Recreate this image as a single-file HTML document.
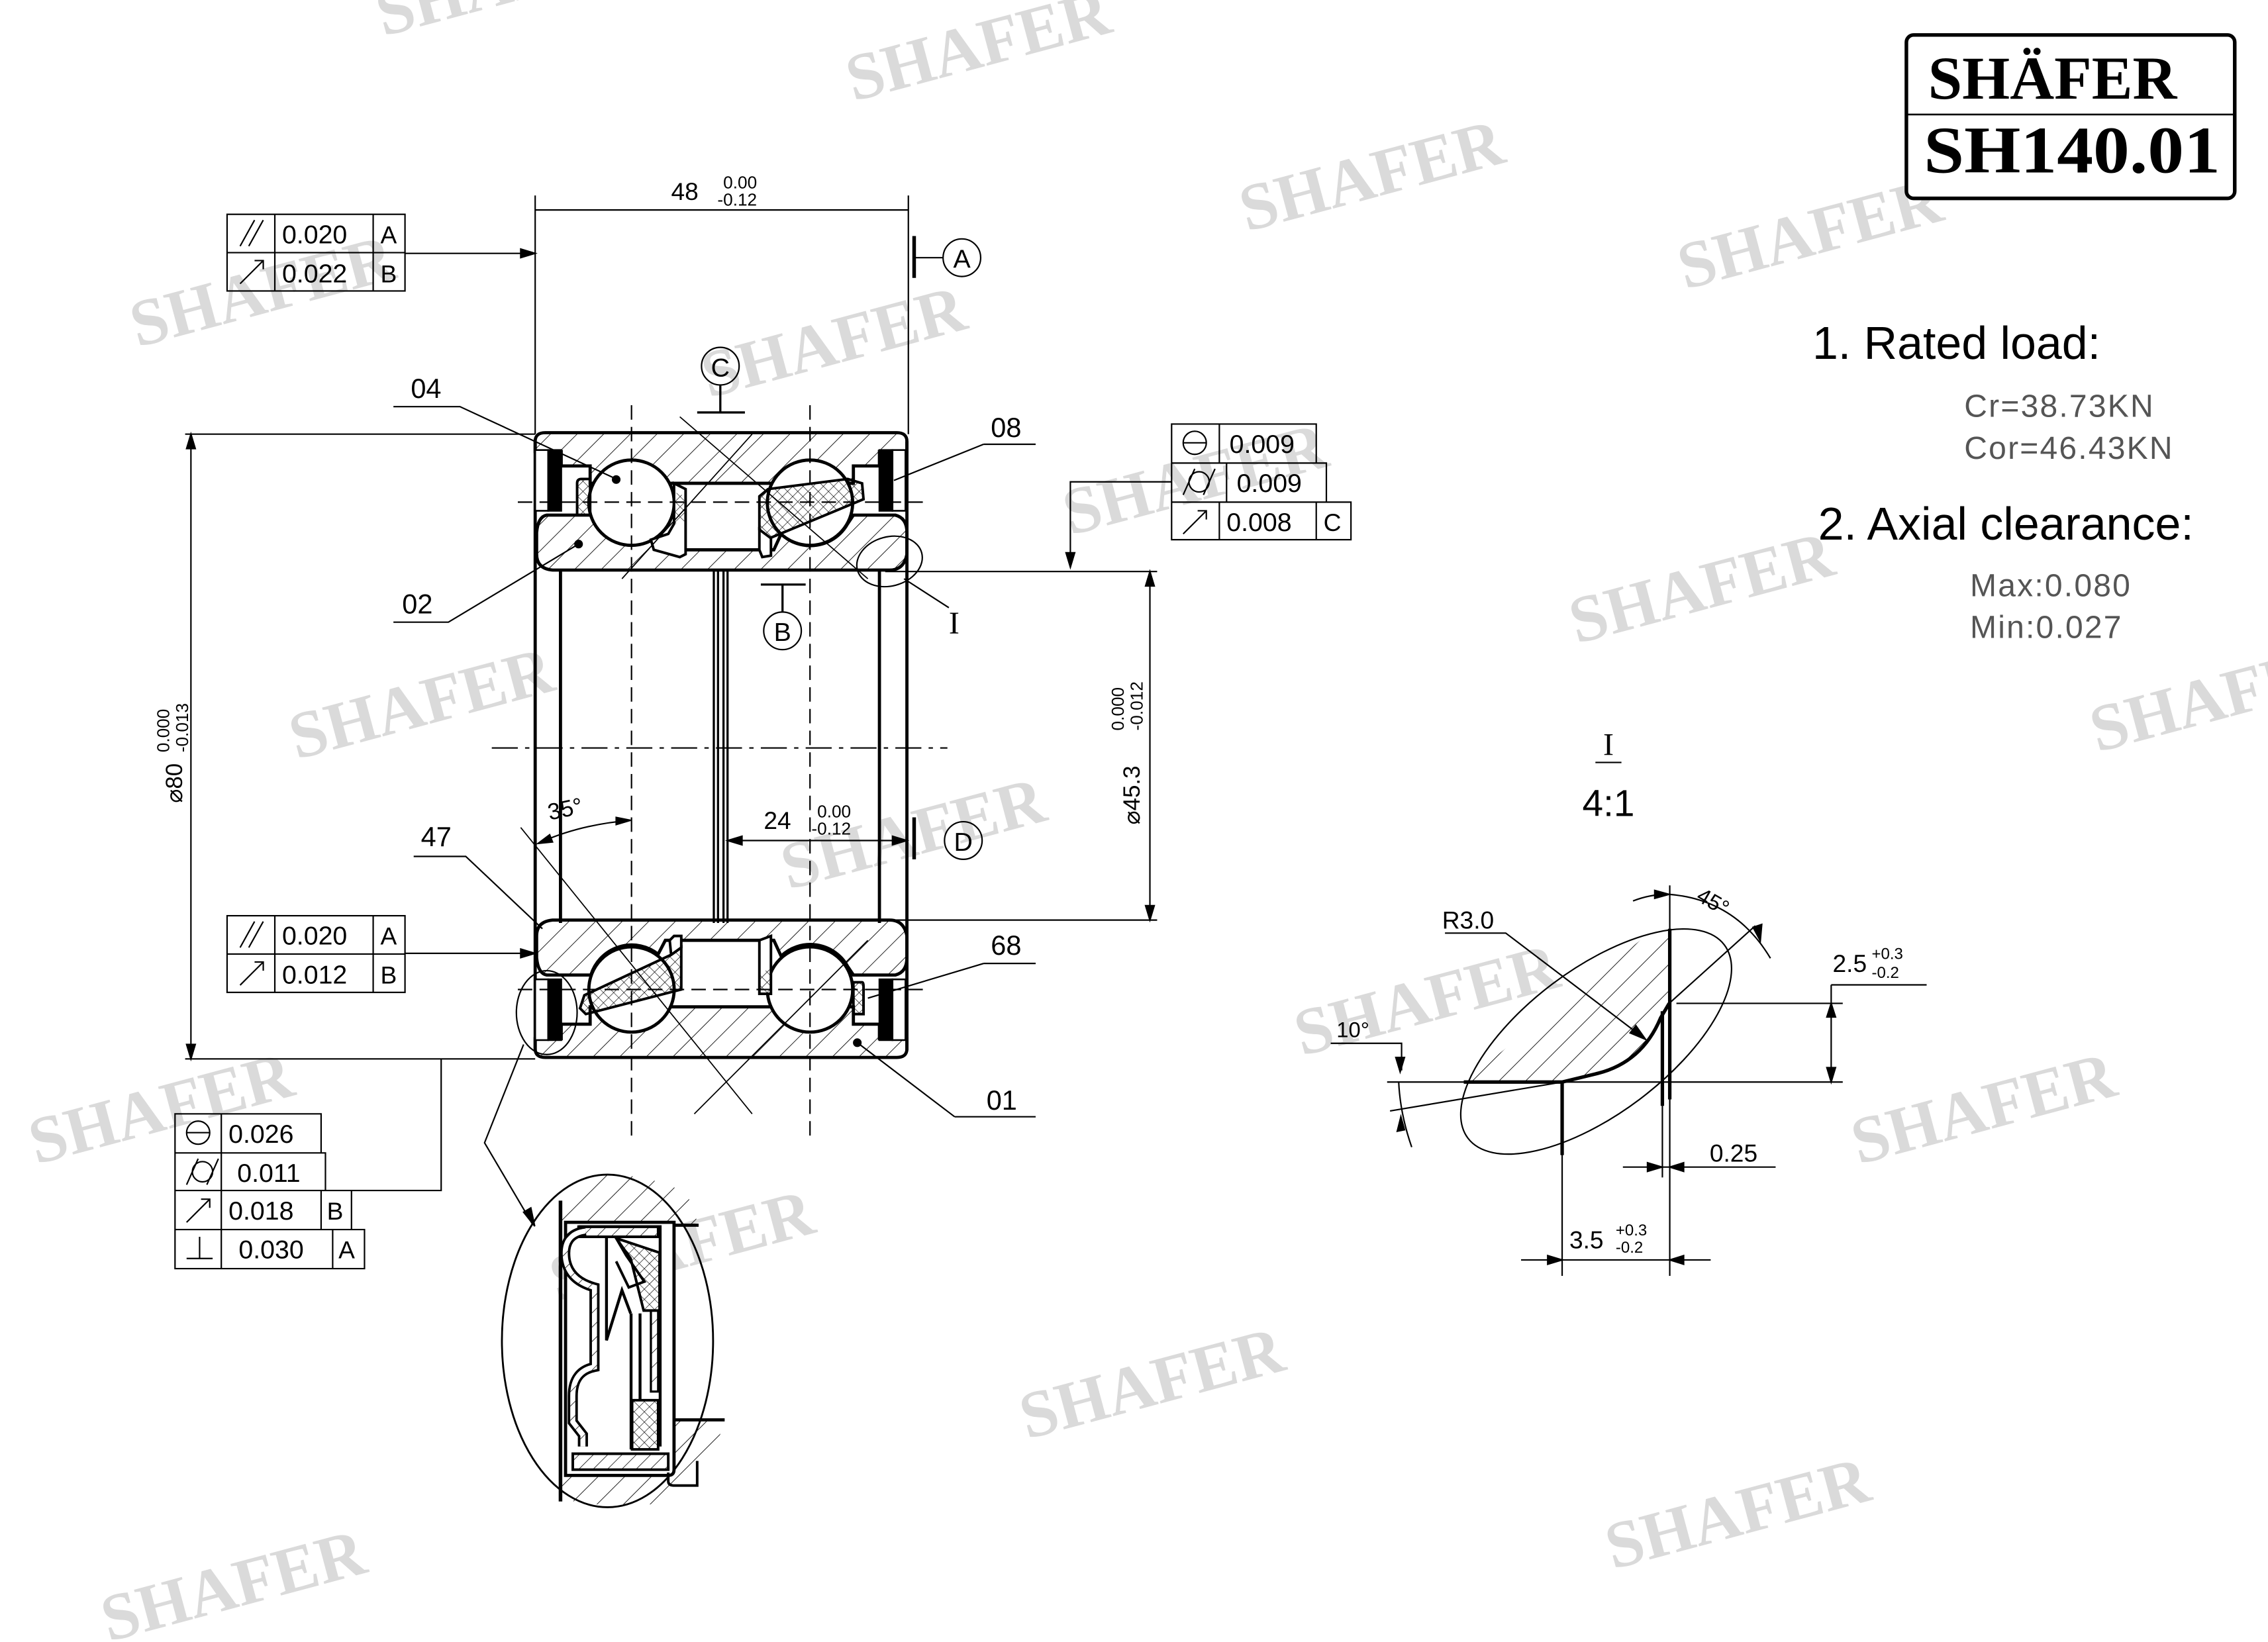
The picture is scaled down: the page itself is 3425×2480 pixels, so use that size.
<!DOCTYPE html>
<html><head><meta charset="utf-8"><style>
html,body{margin:0;padding:0;background:#fff;}
svg{display:block;}
text{font-family:"Liberation Sans",sans-serif;}
.wm text{font-family:"Liberation Serif",serif;font-weight:bold;font-size:46px;fill:#dadada;}
.serif{font-family:"Liberation Serif",serif;}
</style></head><body>
<svg width="3425" height="2480" viewBox="0 0 1568 1135" xmlns="http://www.w3.org/2000/svg">
<defs>
<pattern id="h" width="13" height="13" patternUnits="userSpaceOnUse" patternTransform="rotate(45)"><line x1="0" y1="0" x2="0" y2="13" stroke="#000" stroke-width="0.8"/></pattern>
<pattern id="hm" width="13" height="13" patternUnits="userSpaceOnUse" patternTransform="rotate(-45)"><line x1="0" y1="0" x2="0" y2="13" stroke="#000" stroke-width="0.8"/></pattern>
<pattern id="hs" width="7" height="7" patternUnits="userSpaceOnUse" patternTransform="rotate(45)"><line x1="0" y1="0" x2="0" y2="7" stroke="#000" stroke-width="0.7"/></pattern>
<pattern id="x" width="5" height="5" patternUnits="userSpaceOnUse" patternTransform="rotate(45)"><path d="M0 0V5M0 0H5" stroke="#000" stroke-width="0.6" fill="none"/></pattern>
</defs>
<rect width="1568" height="1135" fill="#fff"/>
<!-- watermarks -->
<g class="wm">
<text transform="translate(265,25) rotate(-15)">SHAFER</text>
<text transform="translate(590,70) rotate(-15)">SHAFER</text>
<text transform="translate(862,160) rotate(-15)">SHAFER</text>
<text transform="translate(1165,200) rotate(-15)">SHAFER</text>
<text transform="translate(95,240) rotate(-15)">SHAFER</text>
<text transform="translate(490,275) rotate(-15)">SHAFER</text>
<text transform="translate(740,370) rotate(-15)">SHAFER</text>
<text transform="translate(1090,445) rotate(-15)">SHAFER</text>
<text transform="translate(205,525) rotate(-15)">SHAFER</text>
<text transform="translate(1450,520) rotate(-15)">SHAFER</text>
<text transform="translate(545,615) rotate(-15)">SHAFER</text>
<text transform="translate(900,730) rotate(-15)">SHAFER</text>
<text transform="translate(25,805) rotate(-15)">SHAFER</text>
<text transform="translate(1285,805) rotate(-15)">SHAFER</text>
<text transform="translate(385,900) rotate(-15)">SHAFER</text>
<text transform="translate(710,995) rotate(-15)">SHAFER</text>
<text transform="translate(1115,1085) rotate(-15)">SHAFER</text>
<text transform="translate(75,1135) rotate(-15)">SHAFER</text>
</g>

<!-- logo -->
<rect x="1318" y="24" width="227" height="113" rx="5" fill="#fff" stroke="#000" stroke-width="2.5"/>
<line x1="1318" y1="79" x2="1545" y2="79" stroke="#000" stroke-width="1.2"/>
<text class="serif" x="1333" y="68" font-weight="bold" font-size="42" textLength="172" lengthAdjust="spacingAndGlyphs">SHÄFER</text>
<text class="serif" x="1330" y="119" font-weight="bold" font-size="46" textLength="205" lengthAdjust="spacingAndGlyphs">SH140.01</text>

<!-- right text -->
<text x="1253" y="248" font-size="32">1. Rated load:</text>
<text x="1358" y="288" font-size="22" fill="#555" letter-spacing="1">Cr=38.73KN</text>
<text x="1358" y="317" font-size="22" fill="#555" letter-spacing="1">Cor=46.43KN</text>
<text x="1257" y="373" font-size="32">2. Axial clearance:</text>
<text x="1362" y="412" font-size="22" fill="#555" letter-spacing="1">Max:0.080</text>
<text x="1362" y="441" font-size="22" fill="#555" letter-spacing="1">Min:0.027</text>

<g stroke="#000" fill="none" stroke-width="1">
<!-- ===== main bearing top half ===== -->
<g id="rings">
<path d="M370 305Q370 299 377 299H620Q627 299 627 305V312H608V322H590V334H408V322H388V312H370Z" fill="url(#h)" stroke-width="2.2"/>
<path d="M378 356H408.5A29.5 29.5 0 0 0 455 370.4L460 380H535L540 369.1A29.5 29.5 0 0 0 586 362L590 356H619Q627 358 627 368V383Q625 394 615 394H382Q371 393 371 383V368Q372 357 378 356Z" fill="url(#h)" stroke-width="2.2"/>
</g>
<g transform="matrix(1 0 0 -1 0 1030)">
<path d="M370 305Q370 299 377 299H620Q627 299 627 305V312H608V322H590V334H408V322H388V312H370Z" fill="url(#hm)" stroke-width="2.2"/>
<path d="M378 356H408.5A29.5 29.5 0 0 0 455 370.4L460 380H535L540 369.1A29.5 29.5 0 0 0 586 362L590 356H619Q627 358 627 368V383Q625 394 615 394H382Q371 393 371 383V368Q372 357 378 356Z" fill="url(#hm)" stroke-width="2.2"/>
</g>
<!-- outer walls -->
<path d="M370 305V726M627 305V726" stroke-width="2.2"/>
<!-- seals -->
<g stroke-width="1.2">
<rect x="370" y="311" width="9" height="42" fill="#fff"/><rect x="379" y="311" width="9" height="42" fill="#000"/>
<rect x="617" y="311" width="9" height="42" fill="#fff"/><rect x="608" y="311" width="9" height="42" fill="#000"/>
<rect x="370" y="677" width="9" height="42" fill="#fff"/><rect x="379" y="677" width="9" height="42" fill="#000"/>
<rect x="617" y="677" width="9" height="42" fill="#fff"/><rect x="608" y="677" width="9" height="42" fill="#000"/>
</g>
<!-- balls -->
<circle cx="436.6" cy="347.4" r="29.5" fill="#fff" stroke-width="2.2"/>
<circle cx="560" cy="347.4" r="29.5" fill="#fff" stroke-width="2.2"/>
<circle cx="436.6" cy="684" r="29.5" fill="#fff" stroke-width="2.2"/>
<circle cx="560" cy="684" r="29.5" fill="#fff" stroke-width="2.2"/>
<!-- cages top -->
<path d="M399 334Q399 331 402 331H408V356H399Z" fill="url(#x)" stroke-width="1.8"/>
<path d="M466 334L474 338V383L470 385L452 380L450 373L462 369L466 362Z" fill="#fff" stroke-width="1.8"/>
<path d="M466 340L474 343V360L466 362Z" fill="url(#x)" stroke="none"/>
<path d="M525 343L531 338L586 331L596 334L597 345L532 372L525 366Z" fill="url(#x)" stroke-width="1.8"/>
<path d="M525 366L533 372V384L527 385L525 380Z" fill="#fff" stroke-width="1.8"/>
<!-- cages bottom -->
<path d="M404 688L464 660L471 655V684L405 701L401 697Z" fill="url(#x)" stroke-width="1.8"/>
<path d="M471 655L464 660L463 650L466 647H471Z" fill="#fff" stroke-width="1.8"/>
<path d="M525 650L533 647V687H525Z" fill="#fff" stroke-width="1.8"/>
<path d="M525 672L533 670V687H525Z" fill="url(#x)" stroke="none"/>
<path d="M590 679H596Q597 679 597 682V701H590Z" fill="url(#x)" stroke-width="1.8"/>
<!-- dots -->
<circle cx="426" cy="331.4" r="2.5" fill="#000"/>
<circle cx="400" cy="376" r="2.5" fill="#000"/>
<circle cx="592.7" cy="720.8" r="2.5" fill="#000"/>
<!-- bore -->
<path d="M387.5 394V638M608 394V638" stroke-width="2.2"/>
<path d="M493.5 394V638M496.4 394V638M500.2 394V638M503 394V638" stroke-width="1.5"/>
<!-- centerlines -->
<path d="M340 517H655" stroke-dasharray="18 5 3 5"/>
<path d="M436.6 280V785M560 280V785" stroke-dasharray="10 5"/>
<path d="M358 347H640M358 684H640" stroke-dasharray="10 5"/>
<path d="M470 288L600 400M430 400L520 300M360 572L520 770M480 770L600 650" stroke-width="0.8"/>

<!-- dim 48 -->
<path d="M370 135V300M628 135V300M370 145H628"/>
<text x="464" y="138" font-size="17" fill="#000" stroke="none">48</text>
<text x="500" y="130" font-size="12" fill="#000" stroke="none">0.00</text>
<text x="496" y="142" font-size="12" fill="#000" stroke="none">-0.12</text>
<path d="M632 163V192" stroke-width="2.5"/>
<path d="M632 178H652"/>
<circle cx="665" cy="178" r="13"/>
<text x="665" y="185" font-size="18" text-anchor="middle" fill="#000" stroke="none">A</text>
<circle cx="498" cy="253" r="13"/>
<text x="498" y="260" font-size="18" text-anchor="middle" fill="#000" stroke="none">C</text>
<path d="M498 266V285M482 285H515" stroke-width="1.5"/>
<circle cx="541" cy="436" r="13"/>
<text x="541" y="443" font-size="18" text-anchor="middle" fill="#000" stroke="none">B</text>
<path d="M541 423V404M526 404H557" stroke-width="1.5"/>
<path d="M632 565V594" stroke-width="2.5"/>
<circle cx="666" cy="581" r="13"/>
<text x="666" y="588" font-size="18" text-anchor="middle" fill="#000" stroke="none">D</text>
<path d="M503 581H627"/>
<path d="M503 581L513 578V584ZM627 581L617 578V584Z" fill="#000"/>
<text x="528" y="573" font-size="17" fill="#000" stroke="none">24</text>
<text x="565" y="565" font-size="12" fill="#000" stroke="none">0.00</text>
<text x="561" y="577" font-size="12" fill="#000" stroke="none">-0.12</text>
<path d="M372 583Q400 570 436 567"/>
<path d="M372 583L380 577L382 582ZM436 567L426 565V570Z" fill="#000"/>
<text x="380" y="567" font-size="16" fill="#000" stroke="none" transform="rotate(-12 380 567)">35°</text>

<!-- FCF top -->
<rect x="157" y="148" width="123" height="53"/>
<path d="M157 174.5H280M190 148V201M258 148V201"/>
<text x="195" y="168" font-size="18" fill="#000" stroke="none">0.020</text>
<text x="263" y="168" font-size="17" fill="#000" stroke="none">A</text>
<text x="195" y="195" font-size="18" fill="#000" stroke="none">0.022</text>
<text x="263" y="195" font-size="17" fill="#000" stroke="none">B</text>
<path d="M166 170L176 152M172 170L182 152"/>
<path d="M166 196L182 180M176 180H182V186"/>
<path d="M280 175H366"/><path d="M370 175L360 172V178Z" fill="#000"/>
<!-- FCF mid -->
<rect x="157" y="633" width="123" height="53"/>
<path d="M157 659.5H280M190 633V686M258 633V686"/>
<text x="195" y="653" font-size="18" fill="#000" stroke="none">0.020</text>
<text x="263" y="653" font-size="17" fill="#000" stroke="none">A</text>
<text x="195" y="680" font-size="18" fill="#000" stroke="none">0.012</text>
<text x="263" y="680" font-size="17" fill="#000" stroke="none">B</text>
<path d="M166 655L176 637M172 655L182 637"/>
<path d="M166 681L182 665M176 665H182V671"/>
<path d="M280 659H366"/><path d="M370 659L360 656V662Z" fill="#000"/>
<!-- FCF right -->
<path d="M810 293H910V320H810ZM810 320H917V347H810ZM810 347H934V373H810Z"/>
<path d="M843 293V320M848 320V347M843 347V373M910 347V373"/>
<text x="850" y="313" font-size="18" fill="#000" stroke="none">0.009</text>
<text x="855" y="340" font-size="18" fill="#000" stroke="none">0.009</text>
<text x="848" y="367" font-size="18" fill="#000" stroke="none">0.008</text>
<text x="915" y="367" font-size="17" fill="#000" stroke="none">C</text>
<circle cx="826" cy="306" r="8"/><path d="M818 306H834"/>
<circle cx="829" cy="333" r="7"/><path d="M818 342L826 324M832 342L840 324"/>
<path d="M818 369L834 353M828 353H834V359"/>
<path d="M810 333H740V386"/><path d="M740 392L737 382H743Z" fill="#000"/>
<!-- FCF bottom -->
<path d="M121 770H222V797H121ZM121 797H225V823H121ZM121 823H243V850H121ZM121 850H252V877H121Z"/>
<path d="M153 770V877M222 823V850M230 850V877"/>
<text x="158" y="790" font-size="18" fill="#000" stroke="none">0.026</text>
<text x="164" y="817" font-size="18" fill="#000" stroke="none">0.011</text>
<text x="158" y="843" font-size="18" fill="#000" stroke="none">0.018</text>
<text x="226" y="843" font-size="17" fill="#000" stroke="none">B</text>
<text x="165" y="870" font-size="18" fill="#000" stroke="none">0.030</text>
<text x="234" y="870" font-size="17" fill="#000" stroke="none">A</text>
<circle cx="137" cy="783" r="8"/><path d="M129 783H145"/>
<circle cx="140" cy="810" r="7"/><path d="M129 819L137 801M143 819L151 801"/>
<path d="M129 845L145 829M139 829H145V835"/>
<path d="M129 870H147M138 870V855"/>
<path d="M243 823H305V732"/>
<!-- phi80 -->
<path d="M128 300H370M128 732H370M132 300V732"/>
<path d="M132 300L129 310H135Z M132 732L129 722H135Z" fill="#000"/>
<text font-size="16" fill="#000" stroke="none" transform="translate(126,555) rotate(-90)">⌀80</text>
<text font-size="12" fill="#000" stroke="none" transform="translate(117,520) rotate(-90)">0.000</text>
<text font-size="12" fill="#000" stroke="none" transform="translate(130,520) rotate(-90)">-0.013</text>
<!-- phi45.3 -->
<path d="M612 395H800M612 636H800M795 395V636"/>
<path d="M795 395L792 405H798Z M795 636L792 626H798Z" fill="#000"/>
<text font-size="16" fill="#000" stroke="none" transform="translate(788,570) rotate(-90)">⌀45.3</text>
<text font-size="12" fill="#000" stroke="none" transform="translate(777,505) rotate(-90)">0.000</text>
<text font-size="12" fill="#000" stroke="none" transform="translate(790,505) rotate(-90)">-0.012</text>
<!-- labels -->
<text x="284" y="275" font-size="19" fill="#000" stroke="none">04</text><path d="M272 281H318L426 331"/>
<text x="685" y="302" font-size="19" fill="#000" stroke="none">08</text><path d="M680 307H716M680 307L618 332"/>
<text x="278" y="424" font-size="19" fill="#000" stroke="none">02</text><path d="M272 430H310L400 376"/>
<text x="291" y="585" font-size="19" fill="#000" stroke="none">47</text><path d="M286 592H322L375 642"/>
<text x="685" y="660" font-size="19" fill="#000" stroke="none">68</text><path d="M680 666H716M680 666L600 690"/>
<text x="682" y="767" font-size="19" fill="#000" stroke="none">01</text><path d="M660 772H716M660 772L593 721"/>
<!-- I marker -->
<ellipse cx="615" cy="388" rx="23" ry="17" transform="rotate(-15 615 388)"/>
<path d="M625 400L656 420"/>
<text class="serif" x="656" y="438" font-size="22" fill="#000" stroke="none">I</text>
<!-- detail circle near seal -->
<ellipse cx="378" cy="700" rx="21" ry="29"/>
<path d="M362 722L335 790L368 846"/>
<path d="M369.7 847.7L362 838L367 835Z" fill="#000"/>

<!-- ===== seal detail ===== -->
<ellipse cx="420" cy="927" rx="73" ry="115" stroke-width="1.3"/>
<path d="M400 847H483L475 825Q450 812 420 812Q395 815 388 830V847Z" fill="url(#h)" stroke="none"/>
<path d="M466 982H501L492 1010Q480 1030 462 1040H400Q391 1035 388 1030V1017H466Z" fill="url(#h)" stroke="none"/>
<path d="M387.5 830V1038" stroke-width="2.5"/>
<path d="M396 847H483M466 981.6H501" stroke-width="2.2"/>
<path d="M391 845H466V1016Q466 1020 462 1020H391Z" fill="#fff" stroke-width="2.2"/>
<path d="M456.4 847V1000M400 848H456" stroke-width="2"/>
<path d="M396 1005H462V1016H396Z" fill="url(#hs)" stroke-width="1.8"/>
<path d="M400 848H455V855H400Z" fill="url(#hs)" stroke-width="1.8"/>
<path d="M426 856L456 866V906L445 906L436 870Z" fill="url(#x)" stroke-width="1.8"/>
<path d="M437 968H455V1002H437Z" fill="url(#x)" stroke-width="1.8"/>
<path d="M450 906H455V962H450Z" fill="url(#hs)" stroke-width="1.5"/>
<path d="M436.3 908V1002M442.5 908V968" stroke-width="2"/>
<path d="M419.3 855V926.6L430 892L436 908" stroke-width="2"/>
<path d="M426 856L433 868L445.5 886L434.7 890L426 872" stroke-width="1.8"/>
<path d="M405 851Q389 853 391 870Q393 885 411 890V945Q396 948 396 965V983L403 992V1000" stroke="#000" stroke-width="7"/>
<path d="M405 851Q389 853 391 870Q393 885 411 890V945Q396 948 396 965V983L403 992V1000" stroke="#fff" stroke-width="3.5"/>
<path d="M405 851Q389 853 391 870Q393 885 411 890V945Q396 948 396 965V983L403 992V1000" stroke="url(#hs)" stroke-width="3.5"/>
<path d="M462 1018V1024Q462 1027 466 1027H482V1010" stroke-width="1.8"/>

<!-- ===== Detail I ===== -->
<text class="serif" x="1112" y="522" font-size="22" fill="#000" stroke="none" text-anchor="middle">I</text>
<path d="M1103 527H1121"/>
<text x="1112" y="564" font-size="26" fill="#000" stroke="none" text-anchor="middle">4:1</text>
<ellipse cx="1103.5" cy="720" rx="111" ry="50" transform="rotate(-37 1103.5 720)"/>
<path d="M1012 748L1144 642L1154 642V693.6L1148 703.8Q1135 735 1103 742.4L1080 748Z" fill="url(#h)" stroke="none"/>
<path d="M1012 748H1080L1103 742.4Q1135 735 1148 703.8L1154 693.6" stroke-width="2.4"/>
<path d="M1154.4 642V760M1149.3 699V764.5M1080 748V798.5" stroke-width="2.4"/>
<path d="M1154.4 612V882M1149.3 764V814M1080 798V882"/>
<path d="M959 748H1274M1159 693.6H1274M1266 680.8V748M1266 680.8H1332"/>
<path d="M1266 693.6L1263 703H1269ZM1266 748L1263 738H1269Z" fill="#000"/>
<text x="1267" y="672" font-size="17" fill="#000" stroke="none">2.5</text>
<text x="1294" y="663" font-size="11" fill="#000" stroke="none">+0.3</text>
<text x="1294" y="676" font-size="11" fill="#000" stroke="none">-0.2</text>
<path d="M999 645H1041L1137.7 718.5"/>
<path d="M1137.7 718.5L1127 714L1131 709Z" fill="#000"/>
<text x="997" y="642" font-size="17" fill="#000" stroke="none">R3.0</text>
<path d="M1154 693.6L1213.5 640"/>
<path d="M1129 622.8Q1141 618 1154 618.2Q1200 622 1224 662.4"/>
<path d="M1154 618.2L1144 615.5L1144 621ZM1217 650.4L1212 641L1218 639Z" fill="#000"/>
<text x="1172" y="622" font-size="15" fill="#000" stroke="none" transform="rotate(30 1172 622)">45°</text>
<path d="M920 721.2H969V740"/>
<path d="M968 741L965 731H971Z" fill="#000"/>
<path d="M967 748Q968 770 976 793"/>
<path d="M968.5 772L966 782L971 781Z" fill="#000"/>
<text x="924" y="717" font-size="15" fill="#000" stroke="none">10°</text>
<path d="M961 768L1080 748"/>
<path d="M1122 806.8H1227.6"/>
<path d="M1149 806.8L1139 803.8V809.8ZM1154.4 806.8L1164 803.8V809.8Z" fill="#000"/>
<text x="1182" y="803" font-size="17" fill="#000" stroke="none">0.25</text>
<path d="M1051.6 871H1182.7"/>
<path d="M1080 871L1070 868V874ZM1154.4 871L1164 868V874Z" fill="#000"/>
<text x="1085" y="863" font-size="17" fill="#000" stroke="none">3.5</text>
<text x="1117" y="854" font-size="11" fill="#000" stroke="none">+0.3</text>
<text x="1117" y="866" font-size="11" fill="#000" stroke="none">-0.2</text>
</g>
</svg>
</body></html>
